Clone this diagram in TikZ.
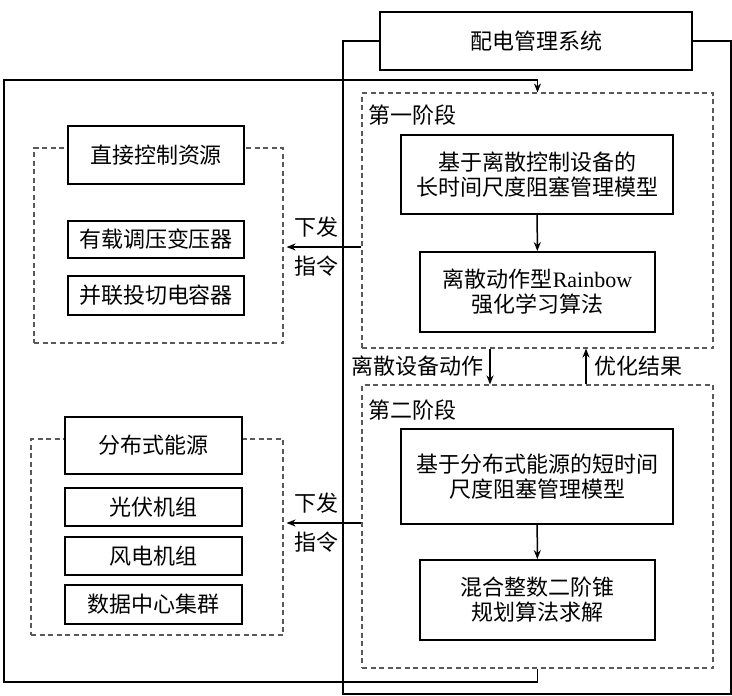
\documentclass[tikz,border=0pt]{standalone}
\usepackage{fontspec}
\setmainfont{Liberation Serif}
\newfontfamily\cjk{Noto Sans CJK SC}
\usepackage{tikz}
\usetikzlibrary{arrows.meta, positioning}
\tikzstyle{block} = [rectangle, draw=black, line width=1.8pt, fill=white, text centered, align=center, inner sep=0pt, font=\cjk\fontsize{22}{25}\selectfont]
\tikzstyle{stage} = [rectangle, draw=black!65, dash pattern=on 5pt off 3.5pt, line width=1.1pt, inner sep=0pt]
\tikzstyle{tag} = [inner sep=1pt, font=\cjk\fontsize{22}{25}\selectfont]
\tikzstyle{cmd} = [inner sep=1pt, align=center, font=\cjk\fontsize{22}{39}\selectfont]
\tikzstyle{line} = [draw, line width=1.5pt, -{Stealth[length=9pt,width=7pt]}]
\tikzstyle{wire} = [draw, line width=1.5pt]

\begin{document}
\begin{tikzpicture}[x=1pt, y=-1pt]
	\useasboundingbox (0,0) rectangle (732,696);

	% Dashed groups
	\node(stage1) [stage, minimum width=351pt, minimum height=255pt] at (537.5,220.5) {};
	\node(stage2) [stage, minimum width=351pt, minimum height=283pt] at (537.5,526.5) {};
	\node(grpA)   [stage, minimum width=249pt, minimum height=195pt] at (158.5,245.5) {};
	\node(grpB)   [stage, minimum width=252pt, minimum height=196pt] at (157,537) {};
	\node(tag1) [tag, anchor=west] at (367,115) {第一阶段};
	\node(tag2) [tag, anchor=west] at (367,410) {第二阶段};

	% Main flow
	\node(sys)  [block, minimum width=312pt, minimum height=58pt] at (536,41) {配电管理系统};
	\node(mdlA) [block, minimum width=272pt, minimum height=79pt] at (537,174.5) {基于离散控制设备的\\长时间尺度阻塞管理模型};
	\node(algA) [block, minimum width=235pt, minimum height=80pt] at (537.5,292) {离散动作型{\rmfamily Rainbow}\\强化学习算法};
	\node(mdlB) [block, minimum width=272pt, minimum height=95pt] at (537,476.5) {基于分布式能源的短时间\\尺度阻塞管理模型};
	\node(algB) [block, minimum width=235pt, minimum height=80pt] at (537.5,600) {混合整数二阶锥\\规划算法求解};

	% Resources
	\node(dirA) [block, minimum width=176pt, minimum height=58pt] at (156,155) {直接控制资源};
	\node(oltc) [block, minimum width=176pt, minimum height=37pt] at (156,239.5) {有载调压变压器};
	\node(cap)  [block, minimum width=176pt, minimum height=39pt] at (156,295.5) {并联投切电容器};
	\node(der)  [block, minimum width=177pt, minimum height=57pt] at (153.5,445.5) {分布式能源};
	\node(pv)   [block, minimum width=177pt, minimum height=38pt] at (153.5,507) {光伏机组};
	\node(wind) [block, minimum width=177pt, minimum height=38pt] at (153.5,556) {风电机组};
	\node(dc)   [block, minimum width=177pt, minimum height=39pt] at (153.5,604.5) {数据中心集群};

	\node(cmd1) [cmd] at (316,247) {下发\\指令};
	\node(cmd2) [cmd] at (316,523) {下发\\指令};

	\coordinate (frameSW) at (343,694);
	\coordinate (frameNE) at (731,41);
	\coordinate (loopSW) at (4,682);
	\coordinate (loopNW) at (4,80);

	% Draw edges
	\path [wire] (sys.west) -| (frameSW) -| (frameNE) -- (sys.east);
	\path [line] (stage2.south) |- (loopSW) -- (loopNW) -| (stage1.north);
	\path [line] (mdlA) -- (algA);
	\path [line] (mdlB) -- (algB);
	\path [line] ([xshift=-47.5pt]stage1.south) -- node [tag, left, xshift=-5pt] {离散设备动作} ([xshift=-47.5pt]stage2.north);
	\path [line] ([xshift=48.5pt]stage2.north) -- node [tag, right, xshift=7pt] {优化结果} ([xshift=48.5pt]stage1.south);
	\path [line, shorten >=3pt] (stage1.west |- cmd1) -- (grpA.east |- cmd1);
	\path [line, shorten >=3pt] (stage2.west |- cmd2) -- (grpB.east |- cmd2);

\end{tikzpicture}
\end{document}
